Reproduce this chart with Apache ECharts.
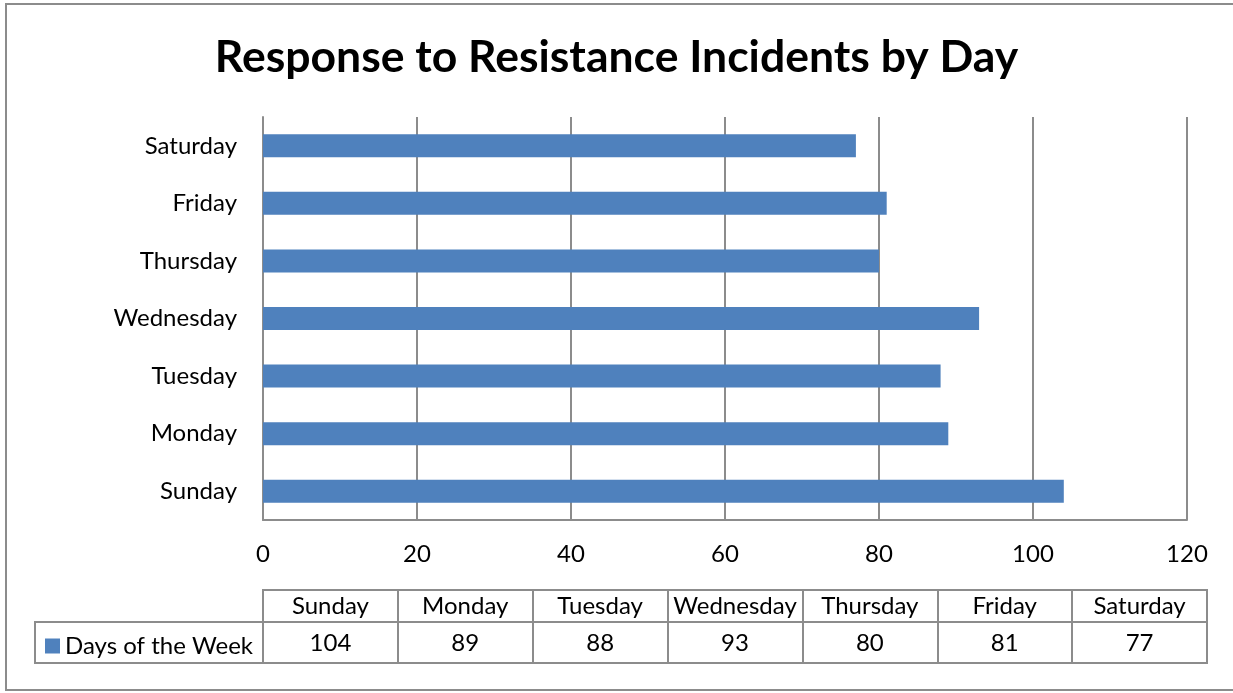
<!DOCTYPE html>
<html>
<head>
<meta charset="utf-8">
<script src="https://cdn.jsdelivr.net/npm/echarts@6/dist/echarts.min.js"></script>
<style>
html,body{margin:0;padding:0;background:#fff;}
#chart{width:1233px;height:693px;}
</style>
</head>
<body>
<div id="chart"></div>
<script>
const titleText = 'Response to Resistance Incidents by Day';
const seriesName = 'Days of the Week';
const categories = ['Sunday', 'Monday', 'Tuesday', 'Wednesday', 'Thursday', 'Friday', 'Saturday'];
const values = [104, 89, 88, 93, 80, 81, 77];
const axisMin = 0, axisMax = 120, axisStep = 20;

const FONT = 'Lato';
const LINE = '#8c8c8c';
const BAR = '#4f81bd';
const FS = 24;

const chart = echarts.init(document.getElementById('chart'), null, {renderer: 'canvas'});
chart.setOption({
  backgroundColor: '#ffffff',
  animation: false,
  textStyle: {fontFamily: FONT, color: '#000'},
  title: {
    text: titleText,
    left: 'center',
    top: 30,
    textStyle: {fontFamily: FONT, fontWeight: 'bold', fontSize: 44.5, color: '#000'}
  },
  legend: {
    data: [seriesName],
    left: 40,
    top: 629,
    icon: 'rect',
    itemWidth: 15,
    itemHeight: 15,
    itemGap: 5,
    selectedMode: false,
    textStyle: {fontFamily: FONT, fontSize: FS, color: '#000'}
  },
  graphic: [{
    type: 'rect',
    shape: {x: 6, y: 4, width: 1240, height: 686},
    style: {fill: 'none', stroke: LINE, lineWidth: 2},
    silent: true
  }],
  grid: [
    {left: 263, right: 46, top: 117, bottom: 173, containLabel: false},
    {left: 263, right: 26, top: 590, height: 32, show: true, borderColor: LINE, borderWidth: 2},
    {left: 263, right: 26, top: 622, height: 41, show: true, borderColor: LINE, borderWidth: 2},
    {left: 35, width: 228, top: 622, height: 41, show: true, borderColor: LINE, borderWidth: 2}
  ],
  xAxis: [
    {
      gridIndex: 0, type: 'value', min: axisMin, max: axisMax, interval: axisStep,
      axisLine: {show: true, lineStyle: {color: LINE, width: 2}},
      axisTick: {show: false},
      splitLine: {show: true, lineStyle: {color: LINE, width: 2}},
      axisLabel: {fontFamily: FONT, fontSize: FS, color: '#000', margin: 22}
    },
    {
      gridIndex: 1, type: 'category', data: categories, position: 'bottom',
      axisLine: {show: false}, axisTick: {show: false},
      splitLine: {show: true, interval: 0, lineStyle: {color: LINE, width: 2}},
      axisLabel: {inside: true, interval: 0, verticalAlign: 'middle', margin: 16,
        fontFamily: FONT, fontSize: FS, color: '#000'}
    },
    {
      gridIndex: 2, type: 'category', data: categories, position: 'bottom',
      axisLine: {show: false}, axisTick: {show: false},
      splitLine: {show: true, interval: 0, lineStyle: {color: LINE, width: 2}},
      axisLabel: {inside: true, interval: 0, verticalAlign: 'middle', margin: 20,
        fontFamily: FONT, fontSize: FS, color: '#000',
        formatter: function (v, i) { return String(values[i]); }}
    },
    {gridIndex: 3, type: 'value', show: false, min: 0, max: 1}
  ],
  yAxis: [
    {
      gridIndex: 0, type: 'category', data: categories,
      axisLine: {show: true, lineStyle: {color: LINE, width: 2}},
      axisTick: {show: false},
      splitLine: {show: false},
      axisLabel: {fontFamily: FONT, fontSize: FS, color: '#000', margin: 26}
    },
    {gridIndex: 1, type: 'value', show: false, min: 0, max: 1, splitLine: {show: false}},
    {gridIndex: 2, type: 'value', show: false, min: 0, max: 1, splitLine: {show: false}},
    {gridIndex: 3, type: 'value', show: false, min: 0, max: 1, splitLine: {show: false}}
  ],
  series: [{
    name: seriesName,
    type: 'bar',
    xAxisIndex: 0,
    yAxisIndex: 0,
    data: values,
    barWidth: '40%',
    itemStyle: {color: BAR}
  }]
});
</script>
</body>
</html>
